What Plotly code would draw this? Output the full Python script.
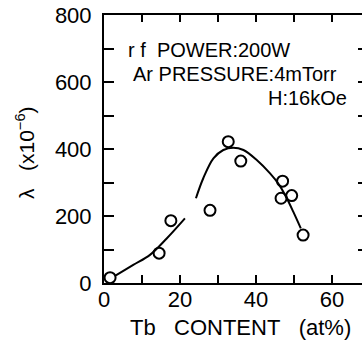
import plotly.graph_objects as go

# measured data points (Tb content at%, lambda x1e-6)
tb_content = [1.6, 14.5, 17.6, 27.9, 32.7, 36.0, 47.0, 46.6, 49.4, 52.4]
lam_values = [16, 89, 186, 217, 422, 364, 304, 253, 261, 143]

# hand-drawn guide curves
curve1_x = [2.9, 7.7, 12.1, 16.5, 21.3]
curve1_y = [21, 54, 84, 133, 193]
curve2_x = [24.2, 26.1, 28.8, 31.4, 34.0, 36.7, 40.2, 43.7, 46.1, 48.1, 49.8, 51.8]
curve2_y = [253, 312, 372, 397, 404, 397, 367, 327, 293, 253, 213, 163]

x_range = [0, 67.9]
y_range = [0, 800]

FONT = "Liberation Sans, Arial, Helvetica, sans-serif"
BLACK = "#000000"

fig = go.Figure()
fig.add_trace(go.Scatter(x=curve1_x, y=curve1_y, mode="lines",
                         line=dict(color=BLACK, width=2, shape="spline"),
                         hoverinfo="skip", showlegend=False))
fig.add_trace(go.Scatter(x=curve2_x, y=curve2_y, mode="lines",
                         line=dict(color=BLACK, width=2, shape="spline"),
                         hoverinfo="skip", showlegend=False))
fig.add_trace(go.Scatter(x=tb_content, y=lam_values, mode="markers",
                         marker=dict(symbol="circle-open", size=11, color=BLACK,
                                     line=dict(width=2, color=BLACK)),
                         xaxis="x2", yaxis="y2", showlegend=False))

W, H = 362, 341
L, R, T, B = 104, 0, 15, 58
pw, ph = W - L - R, H - T - B

def px(x):
    return (x - L) / pw

def py(y):
    return (H - B - y) / ph

annotations = [
    dict(text="r f\u00a0\u00a0POWER:200W", x=px(126), y=py(50), xanchor="left", yanchor="middle"),
    dict(text="Ar PRESSURE:4mTorr", x=px(131), y=py(74), xanchor="left", yanchor="middle"),
    dict(text="H:16kOe", x=px(349), y=py(98), xanchor="right", yanchor="middle"),
]
for a in annotations:
    a.update(xref="paper", yref="paper", showarrow=False,
             font=dict(family=FONT, size=20, color=BLACK))

annotations.append(dict(text="Tb\u00a0\u00a0\u00a0CONTENT\u00a0\u00a0\u00a0(at%)",
                        x=px(240), y=py(327), xref="paper", yref="paper",
                        xanchor="center", yanchor="middle", showarrow=False,
                        font=dict(family=FONT, size=22, color=BLACK)))
annotations.append(dict(text="λ\u00a0\u00a0\u00a0(x10<sup>−6</sup>)",
                        x=px(25), y=py(153), xref="paper", yref="paper",
                        xanchor="center", yanchor="middle", textangle=-90,
                        showarrow=False,
                        font=dict(family=FONT, size=21, color=BLACK)))

fig.update_layout(
    width=W, height=H,
    margin=dict(l=L, r=R, t=T, b=B, pad=0),
    paper_bgcolor="white", plot_bgcolor="white",
    font=dict(family=FONT, color=BLACK),
    showlegend=False,
    xaxis=dict(range=x_range, dtick=20, tick0=0, ticks="inside", ticklen=8,
               tickwidth=2, tickcolor=BLACK, showline=True, linewidth=2,
               linecolor=BLACK, showgrid=False, zeroline=False,
               ticklabelstandoff=-4,
               tickfont=dict(family=FONT, size=22, color=BLACK),
               minor=dict(dtick=10, ticks="inside", ticklen=8, tickwidth=2,
                          tickcolor=BLACK, showgrid=False)),
    yaxis=dict(range=y_range, dtick=200, tick0=0, ticks="inside", ticklen=10,
               tickwidth=2, tickcolor=BLACK, showline=True, linewidth=2,
               linecolor=BLACK, showgrid=False, zeroline=False,
               ticklabelstandoff=6,
               tickfont=dict(family=FONT, size=22, color=BLACK),
               minor=dict(dtick=100, ticks="inside", ticklen=10, tickwidth=2,
                          tickcolor=BLACK, showgrid=False)),
    xaxis2=dict(range=x_range, overlaying="x", side="top", dtick=10, tick0=0,
                ticks="inside", ticklen=7, tickwidth=2, tickcolor=BLACK,
                showticklabels=False, showline=True, linewidth=2,
                linecolor=BLACK, showgrid=False, zeroline=False),
    yaxis2=dict(range=y_range, overlaying="y", side="right", dtick=100, tick0=0,
                ticks="inside", ticklen=4, tickwidth=2, tickcolor=BLACK,
                showticklabels=False, showline=False, showgrid=False,
                zeroline=False),
    annotations=annotations,
)

fig.write_html("out.html")
